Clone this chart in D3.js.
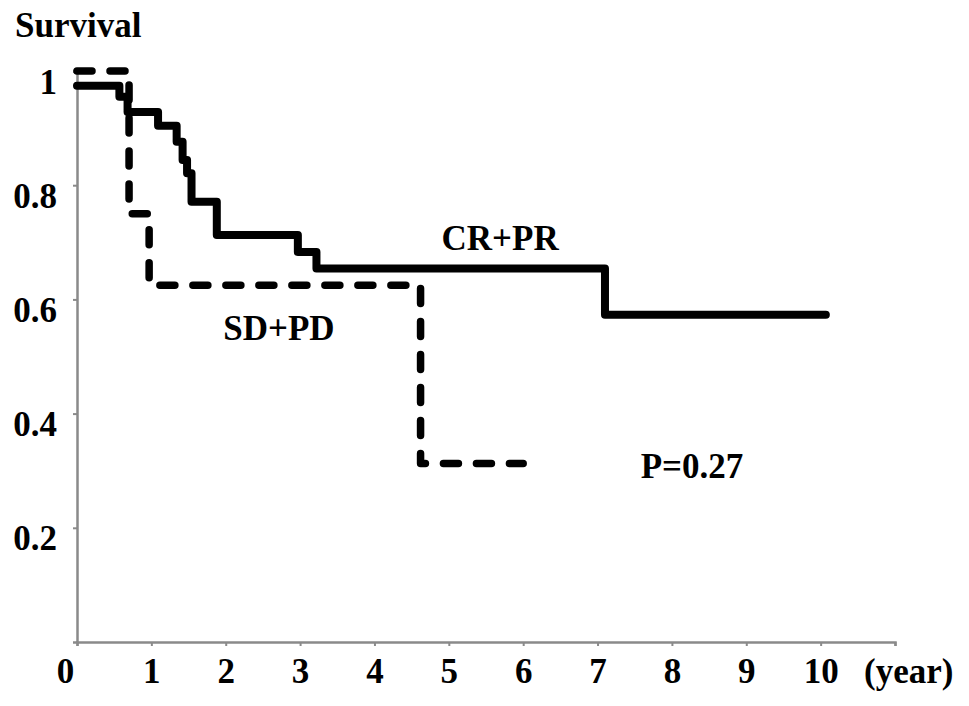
<!DOCTYPE html>
<html>
<head>
<meta charset="utf-8">
<script src="https://cdn.jsdelivr.net/npm/d3@7"></script>
<style>
  body { margin: 0; background: #fff; }
</style>
</head>
<body>
<div id="chart"></div>
<script>
// Kaplan-Meier steps
var crprTimes = [0, 0.57, 0.68, 1.09, 1.34, 1.42, 1.48, 1.54, 1.88, 2.97, 3.22, 7.10, 10.07];
var crprSurv  = [0.974, 0.955, 0.928, 0.904, 0.876, 0.844, 0.821, 0.771, 0.713, 0.683, 0.654, 0.573, 0.573];

var sdpdTimes = [0, 0.70, 0.97, 4.62, 6.0];
var sdpdSurv  = [1, 0.75, 0.625, 0.3125, 0.3125];

var xTicks = [0, 1, 2, 3, 4, 5, 6, 7, 8, 9, 10, 11];
var yTicks = [0.2, 0.4, 0.6, 0.8, 1];

var width = 969, height = 706;
var serif = "'Liberation Serif', 'Times New Roman', Times, serif";

var svg = d3.select("#chart")
  .append("svg")
  .attr("width", width)
  .attr("height", height);

svg.append("rect").attr("width", width).attr("height", height).attr("fill", "#fff");

// Scales
var x = d3.scaleLinear().domain([0, 11]).range([77, 895]);
var y = d3.scaleLinear().domain([0, 1]).range([642, 71]);

var axisColor = "#8a8a8a";

// X axis
var xAxis = svg.append("g")
  .attr("transform", "translate(0," + y(0) + ")")
  .call(d3.axisBottom(x)
    .tickValues(xTicks)
    .tickSize(4)
    .tickPadding(12)
    .tickFormat(d => d <= 10 ? String(d) : ""));

// Y axis
var yAxis = svg.append("g")
  .attr("transform", "translate(" + x(0) + ",0)")
  .call(d3.axisLeft(y)
    .tickValues(yTicks)
    .tickSize(4)
    .tickPadding(16)
    .tickFormat(d => d === 1 ? "1" : d.toFixed(1)));

[xAxis, yAxis].forEach(function (g) {
  g.attr("font-family", serif).attr("font-size", 35).attr("font-weight", "bold");
  g.select(".domain").attr("stroke", axisColor).attr("stroke-width", 2.5);
  g.selectAll(".tick line").attr("stroke", axisColor).attr("stroke-width", 2);
  g.selectAll("text").attr("fill", "#000");
});
yAxis.selectAll("text").attr("dy", "0.63em");

// excel nudges the 0 label left of the y axis
xAxis.selectAll(".tick").filter(d => d === 0).select("text").attr("dx", -12);

function label(px, py, txt, anchor) {
  return svg.append("text")
    .attr("x", px)
    .attr("y", py)
    .attr("text-anchor", anchor)
    .attr("font-family", serif)
    .attr("font-weight", "bold")
    .attr("font-size", 35)
    .attr("fill", "#000")
    .text(txt);
}

// Axis captions
label(15, 37, "Survival", "start");
label(864, 683, "(year)", "start");

// Curves
var line = d3.line()
  .x(d => x(d.t))
  .y(d => y(d.s))
  .curve(d3.curveStepAfter);

var crpr = crprTimes.map((t, i) => ({ t: t, s: crprSurv[i] }));
var sdpd = sdpdTimes.map((t, i) => ({ t: t, s: sdpdSurv[i] }));

svg.append("path")
  .datum(sdpd)
  .attr("d", line)
  .attr("fill", "none")
  .attr("stroke", "#000")
  .attr("stroke-width", 7.5)
  .attr("stroke-linecap", "round")
  .attr("stroke-linejoin", "round")
  .attr("stroke-dasharray", "15 18");

svg.append("path")
  .datum(crpr)
  .attr("d", line)
  .attr("fill", "none")
  .attr("stroke", "#000")
  .attr("stroke-width", 8)
  .attr("stroke-linecap", "round")
  .attr("stroke-linejoin", "round");

// Curve labels
label(x(5.69), y(0.6865), "CR+PR", "middle");
label(x(2.715), y(0.529), "SD+PD", "middle");
label(x(8.27), y(0.287), "P=0.27", "middle");
</script>
</body>
</html>
